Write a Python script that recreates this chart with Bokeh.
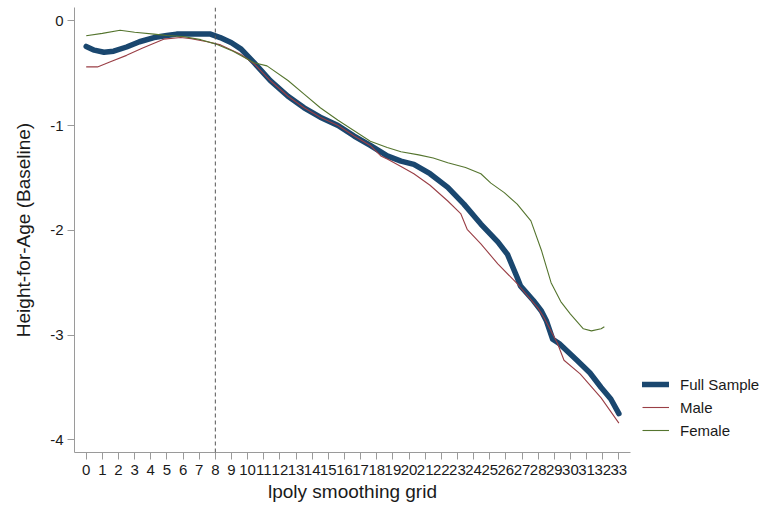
from bokeh.plotting import figure
from bokeh.models import Range1d, FixedTicker, Span, Legend, LegendItem
from bokeh.embed import file_html
from bokeh.resources import INLINE

# ---- data ----
grid_full = [0, 0.5, 1.1, 1.7, 2.5, 3.3, 4.2, 5.0, 5.6, 6.5, 7.7, 8.3, 9.0, 9.6, 10.4, 11.4,
             12.5, 13.5, 14.5, 15.6, 16.6, 17.6, 18.65, 19.5, 20.3, 21.3, 22.4, 23.4, 24.45,
             25.5, 26.1, 26.7, 26.9, 27.7, 28.2, 28.5, 28.9, 29.3, 30.4, 31.2, 31.9, 32.5, 33.0]
hfa_full = [-0.245, -0.28, -0.30, -0.29, -0.25, -0.20, -0.16, -0.14, -0.127, -0.127, -0.127,
            -0.16, -0.21, -0.27, -0.40, -0.57, -0.72, -0.83, -0.92, -1.00, -1.10, -1.19, -1.29,
            -1.34, -1.37, -1.46, -1.59, -1.75, -1.94, -2.11, -2.23, -2.45, -2.53, -2.67, -2.77,
            -2.86, -3.04, -3.08, -3.24, -3.36, -3.50, -3.61, -3.75]

grid_male = [0, 0.7, 1.5, 2.5, 3.5, 4.8, 5.85, 6.5, 7.5, 8.33, 9.56, 10.4, 11.4, 12.5, 13.5,
             14.5, 15.6, 16.6, 17.6, 18.25, 18.65, 19.5, 20.3, 21.3, 22.4, 23.2, 23.6, 24.45,
             25.5, 26.7, 27.98, 28.35, 29.2, 29.6, 30.6, 31.9, 33.0]
hfa_male = [-0.44, -0.44, -0.39, -0.33, -0.26, -0.175, -0.16, -0.17, -0.20, -0.23, -0.32, -0.41,
            -0.57, -0.72, -0.83, -0.92, -1.00, -1.10, -1.19, -1.29, -1.32, -1.39, -1.46, -1.57,
            -1.72, -1.84, -1.99, -2.13, -2.32, -2.51, -2.74, -2.83, -3.08, -3.24, -3.37, -3.60,
            -3.84]

grid_female = [0, 1, 2.1, 3, 4.2, 5, 6, 7.1, 8.0, 8.33, 9.1, 10.4, 11.2, 12.5, 13.5, 14.5,
               15.6, 16.6, 17.6, 18.65, 19.5, 20.6, 21.5, 22.4, 23.5, 24.45, 25.07, 25.9, 26.7,
               27.55, 28.2, 28.8, 29.4, 30.0, 30.8, 31.3, 31.9, 32.1]
hfa_female = [-0.143, -0.12, -0.09, -0.11, -0.127, -0.14, -0.15, -0.18, -0.22, -0.24, -0.29,
              -0.40, -0.43, -0.57, -0.70, -0.83, -0.95, -1.05, -1.15, -1.21, -1.25, -1.28,
              -1.31, -1.355, -1.40, -1.46, -1.55, -1.64, -1.75, -1.91, -2.19, -2.50, -2.68,
              -2.80, -2.94, -2.96, -2.94, -2.92]

x_ticks = list(range(0, 34))
y_ticks = [0, -1, -2, -3, -4]
y_tick_labels = ["0", "-1", "-2", "-3", "-4"]
cutoff = 8
series_names = ["Full Sample", "Male", "Female"]

FONT = "Liberation Sans"

p = figure(frame_width=556, frame_height=445, output_backend="svg", toolbar_location=None,
           x_range=Range1d(-0.725, 33.72), y_range=Range1d(-4.121, 0.127),
           min_border_left=74, min_border_right=141, min_border_top=7, min_border_bottom=59)
p.outline_line_color = None
p.xgrid.visible = False
p.ygrid.visible = False
p.background_fill_color = "white"
p.border_fill_color = "white"

for ax in (p.xaxis[0], p.yaxis[0]):
    ax.axis_line_color = "#9a9a9a"
    ax.major_tick_line_color = "#9a9a9a"
    ax.major_tick_out = 7
    ax.major_tick_in = 0
    ax.minor_tick_line_color = None
    ax.major_label_text_font = FONT
    ax.major_label_text_font_size = "15px"
    ax.major_label_text_color = "#1a1a1a"
    ax.axis_label_text_font = FONT
    ax.axis_label_text_font_style = "normal"
    ax.axis_label_text_color = "#1a1a1a"

p.xaxis.ticker = FixedTicker(ticks=x_ticks)
p.yaxis.ticker = FixedTicker(ticks=y_ticks)
p.yaxis.major_label_overrides = {t: s for t, s in zip(y_ticks, y_tick_labels)}
p.xaxis.major_label_standoff = 5
p.yaxis.major_label_standoff = 4
p.xaxis.axis_label = "lpoly smoothing grid"
p.yaxis.axis_label = "Height-for-Age (Baseline)"
p.xaxis.axis_label_text_font_size = "19px"
p.yaxis.axis_label_text_font_size = "19px"
p.xaxis.axis_label_standoff = 3
p.yaxis.axis_label_standoff = 13

p.add_layout(Span(location=cutoff, dimension="height", line_color="#555555",
                  line_width=1, line_dash="4 3"))

r_full = p.line(grid_full, hfa_full, line_color="#1a476f", line_width=5.5,
                line_join="round", line_cap="round")
r_male = p.line(grid_male, hfa_male, line_color="#9a3f46", line_width=1.1)
r_female = p.line(grid_female, hfa_female, line_color="#55752f", line_width=1.1)

legend = Legend(items=[LegendItem(label=series_names[0], renderers=[r_full]),
                       LegendItem(label=series_names[1], renderers=[r_male]),
                       LegendItem(label=series_names[2], renderers=[r_female])],
                location="bottom_left", border_line_color=None, background_fill_alpha=0,
                padding=0, spacing=3, glyph_width=27, glyph_height=20, label_height=20,
                label_standoff=11, label_text_font=FONT, label_text_font_size="15px",
                label_text_color="#1a1a1a", margin=12)
p.add_layout(legend, "right")

open("out.html", "w").write(file_html(p, INLINE))
